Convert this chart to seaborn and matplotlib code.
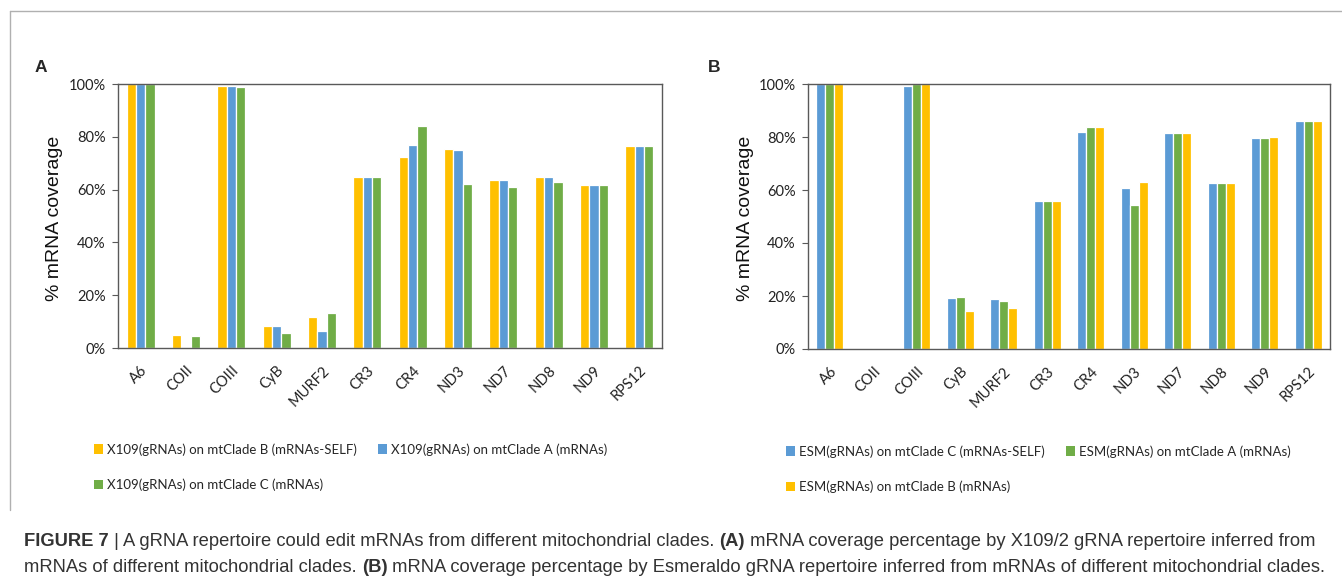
import matplotlib
matplotlib.use("Agg")
import matplotlib.pyplot as plt
import seaborn as sns
import pandas as pd
from matplotlib.patches import Patch
from matplotlib.lines import Line2D

genes = ["A6", "COII", "COIII", "CyB", "MURF2", "CR3", "CR4", "ND3", "ND7", "ND8", "ND9", "RPS12"]

# Panel A series (% coverage)
a_series = [
    "X109(gRNAs) on mtClade B (mRNAs-SELF)",
    "X109(gRNAs) on mtClade A (mRNAs)",
    "X109(gRNAs) on mtClade C (mRNAs)",
]
a_cladeB = [100, 4.8, 99.4, 8.4, 11.9, 64.8, 72.3, 75.4, 63.8, 64.7, 61.9, 76.7]
a_cladeA = [100, 0.0, 99.4, 8.4, 6.3, 64.8, 77.0, 74.9, 63.8, 64.7, 61.8, 76.7]
a_cladeC = [100, 4.6, 99.0, 5.6, 13.2, 64.8, 84.1, 62.3, 60.8, 63.0, 61.8, 76.7]

# Panel B series (% coverage)
b_series = [
    "ESM(gRNAs) on mtClade C (mRNAs-SELF)",
    "ESM(gRNAs) on mtClade A (mRNAs)",
    "ESM(gRNAs) on mtClade B (mRNAs)",
]
b_cladeC = [100, 0.0, 99.2, 19.2, 18.8, 55.8, 81.7, 60.9, 81.4, 62.6, 79.8, 86.2]
b_cladeA = [100, 0.0, 100, 19.5, 18.3, 55.8, 83.7, 54.4, 81.4, 62.6, 79.8, 86.2]
b_cladeB = [100, 0.0, 100, 14.4, 15.6, 55.8, 83.7, 63.2, 81.4, 62.6, 80.0, 86.2]

yticks = [0, 20, 40, 60, 80, 100]
ytick_labels = ["0%", "20%", "40%", "60%", "80%", "100%"]

YELLOW = "#FFC000"
BLUE = "#5B9BD5"
GREEN = "#70AD47"

caption1 = [("FIGURE 7", True), (" | A gRNA repertoire could edit mRNAs from different mitochondrial clades. ", False),
            ("(A)", True), (" mRNA coverage percentage by X109/2 gRNA repertoire inferred from", False)]
caption2 = [("mRNAs of different mitochondrial clades. ", False), ("(B)", True),
            (" mRNA coverage percentage by Esmeraldo gRNA repertoire inferred from mRNAs of different mitochondrial clades.", False)]

sns.set_theme(style="white")
plt.rcParams["font.family"] = ["Lato", "DejaVu Sans"]

W, H = 1342, 583
fig = plt.figure(figsize=(W / 100, H / 100), dpi=100)


def ax_rect(l, t, r, b):
    return [l / W, 1 - b / H, (r - l) / W, (b - t) / H]


def long_df(series_names, values):
    rows = []
    for name, vals in zip(series_names, values):
        for g, v in zip(genes, vals):
            rows.append({"gene": g, "series": name, "value": v})
    return pd.DataFrame(rows)


def draw_panel(rect, df, names, colors, letter, letter_xy, ylabel_x, legend_xy):
    ax = fig.add_axes(rect)
    sns.barplot(data=df, x="gene", y="value", hue="series", order=genes, hue_order=names,
                palette=colors, width=0.62, edgecolor="white", linewidth=0.9,
                saturation=1, ax=ax, legend=False)
    ax.set_ylim(0, 100)
    ax.set_xlim(-0.5, len(genes) - 0.5)
    ax.set_yticks(yticks)
    ax.set_yticklabels(ytick_labels, fontsize=10.5, color="#222222")
    ax.set_xticks(range(len(genes)))
    ax.set_xticklabels(genes, rotation=45, ha="right", rotation_mode="anchor", fontsize=10.5, color="#222222")
    ax.tick_params(axis="x", length=0, pad=11)
    ax.tick_params(axis="y", length=4, width=0.8, color="#595959", left=True, pad=5)
    ax.set_xlabel("")
    ax.set_ylabel("")
    for s in ax.spines.values():
        s.set_visible(True)
        s.set_color("#595959")
        s.set_linewidth(1.0)
    fig.text(ylabel_x / W, 1 - 218 / H, "% mRNA coverage", rotation=90, ha="center", va="center",
             fontsize=14, family=["Liberation Sans", "DejaVu Sans"], color="#111111")
    fig.text(letter_xy[0] / W, 1 - letter_xy[1] / H, letter, fontsize=12.5, fontweight="bold",
             family=["Liberation Sans", "DejaVu Sans"], ha="left", va="center")
    handles = [Patch(facecolor=c, edgecolor="none") for c in colors]
    # row-wise ordering for a 2-column legend with 3 entries
    order = [0, 2, 1]
    fig.legend([handles[i] for i in order], [names[i] for i in order], loc="upper left",
               bbox_to_anchor=(legend_xy[0] / W, 1 - legend_xy[1] / H),
               ncol=2, frameon=False, fontsize=9.5, handlelength=0.7, handleheight=0.7,
               handletextpad=0.3, columnspacing=1.6, labelspacing=1.75, borderaxespad=0, borderpad=0)
    return ax


dfA = long_df(a_series, [a_cladeB, a_cladeA, a_cladeC])
draw_panel(ax_rect(118, 84, 662, 348), dfA, a_series, [YELLOW, BLUE, GREEN], "A", (35, 68), 55, (94, 443))

dfB = long_df(b_series, [b_cladeC, b_cladeA, b_cladeB])
draw_panel(ax_rect(808, 84, 1330, 349), dfB, b_series, [BLUE, GREEN, YELLOW], "B", (708, 68), 745, (786, 445))

# outer frame lines (top and left)
fig.add_artist(Line2D([10 / W, 1.0], [1 - 11 / H, 1 - 11 / H], color="#b0b0b0", linewidth=1.0))
fig.add_artist(Line2D([10 / W, 10 / W], [1 - 11 / H, 1 - 510 / H], color="#b0b0b0", linewidth=1.0))

# caption with mixed bold
fig.canvas.draw()
renderer = fig.canvas.get_renderer()
cap_family = ["Liberation Sans", "DejaVu Sans"]


def draw_caption(parts, x0, y):
    x = x0
    for txt, bold in parts:
        t = fig.text(x / W, 1 - y / H, txt, fontsize=13.2, fontweight="bold" if bold else "normal",
                     family=cap_family, ha="left", va="center", color="#333333")
        bb = t.get_window_extent(renderer=renderer)
        x += bb.width


draw_caption(caption1, 24, 541)
draw_caption(caption2, 24, 568)

fig.savefig("out.png", dpi=100)
